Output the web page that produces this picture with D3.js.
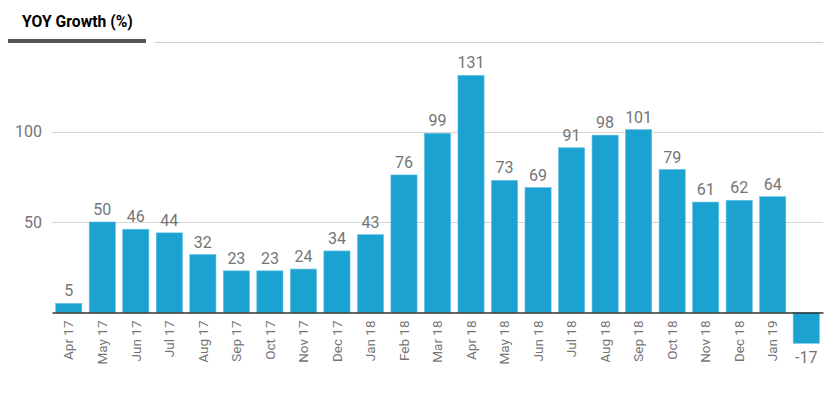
<html>
<head>
  <meta charset="utf-8">
  <title>YOY Growth (%)</title>
  <script src="https://d3js.org/d3.v7.min.js"></script>
  <style>
    body {
      margin: 0;
      padding: 0;
      background: #fff;
      font-family: Roboto, Arial, sans-serif;
    }
    .title {
      font-size: 15.7px;
      font-weight: bold;
      fill: #000;
    }
    .tick text {
      fill: #757575;
    }
    .label {
      fill: #757575;
      font-size: 16px;
    }
  </style>
</head>
<body>
  <div id="chart"></div>

  <script>

    // months shown on the axis (last one has no visible label in the picture)
    var months = ["Apr 17", "May 17", "Jun 17", "Jul 17", "Aug 17", "Sep 17", "Oct 17",
      "Nov 17", "Dec 17", "Jan 18", "Feb 18", "Mar 18", "Apr 18", "May 18", "Jun 18",
      "Jul 18", "Aug 18", "Sep 18", "Oct 18", "Nov 18", "Dec 18", "Jan 19", "Feb 19"];
    var growth = [5, 50, 46, 44, 32, 23, 23, 24, 34, 43, 76, 99, 131, 73, 69,
      91, 98, 101, 79, 61, 62, 64, -17];
    var hiddenTicks = ["Feb 19"];
    var yTicks = [50, 100];

    var width = 840;
    var height = 399;

    var svg = d3.select("#chart").append("svg")
        .attr("width", width)
        .attr("height", height);

    // header tab
    svg.append("text")
        .attr("class", "title")
        .attr("x", 22)
        .attr("y", 27)
        .text("YOY Growth (%)");

    svg.append("rect")
        .attr("x", 8)
        .attr("y", 39)
        .attr("width", 138)
        .attr("height", 4)
        .attr("fill", "#555");

    svg.append("line")
        .attr("x1", 155).attr("x2", 823)
        .attr("y1", 42.5).attr("y2", 42.5)
        .attr("stroke", "#ccc");

    var x = d3.scaleBand()
        .domain(months)
        .range([52, 823])
        .paddingInner(0.22)
        .paddingOuter(0.11);

    var y = d3.scaleLinear()
        .domain([0, 100])
        .range([312.5, 131.5]);

    // grid lines
    svg.append("g")
      .selectAll("line")
        .data(yTicks)
      .enter().append("line")
        .attr("x1", 52).attr("x2", 823)
        .attr("y1", function(d) { return Math.round(y(d)) + 0.5; })
        .attr("y2", function(d) { return Math.round(y(d)) + 0.5; })
        .attr("stroke", "#d6d6d6");

    var yAxis = svg.append("g")
        .attr("transform", "translate(42,0)")
        .call(d3.axisLeft(y).tickValues(yTicks).tickSize(0).tickPadding(0));
    yAxis.select(".domain").remove();
    yAxis.selectAll("text")
        .style("font-size", "16px")
        .style("font-family", "Roboto, Arial, sans-serif");

    svg.selectAll(".bar")
        .data(growth)
      .enter().append("rect")
        .attr("class", "bar")
        .attr("x", function(d, i) { return x(months[i]); })
        .attr("width", x.bandwidth())
        .attr("y", function(d) { return y(Math.max(0, d)); })
        .attr("height", function(d) { return Math.abs(y(d) - y(0)); })
        .attr("fill", "#1ca2d0")
        .attr("stroke", "#5cc0e3")
        .attr("stroke-width", 0.6);

    svg.selectAll(".label")
        .data(growth)
      .enter().append("text")
        .attr("class", "label")
        .attr("text-anchor", "middle")
        .attr("x", function(d, i) { return x(months[i]) + x.bandwidth() / 2; })
        .attr("y", function(d) { return d >= 0 ? y(d) - 7 : y(d) + 20; })
        .text(function(d) { return d; });

    // baseline and month labels
    var xAxis = svg.append("g")
        .attr("transform", "translate(0," + y(0) + ")")
        .call(d3.axisBottom(x).tickSize(0).tickPadding(0)
          .tickFormat(function(d) { return hiddenTicks.indexOf(d) >= 0 ? "" : d; }));
    xAxis.select(".domain")
        .attr("stroke", "#333")
        .attr("stroke-width", 1.5);
    xAxis.selectAll(".tick text")
        .attr("transform", "rotate(-90)")
        .attr("text-anchor", "end")
        .attr("x", -8)
        .attr("y", 0)
        .attr("dy", "0.35em")
        .style("font-size", "13.5px")
        .style("font-family", "Roboto, Arial, sans-serif");

  </script>
</body>
</html>
